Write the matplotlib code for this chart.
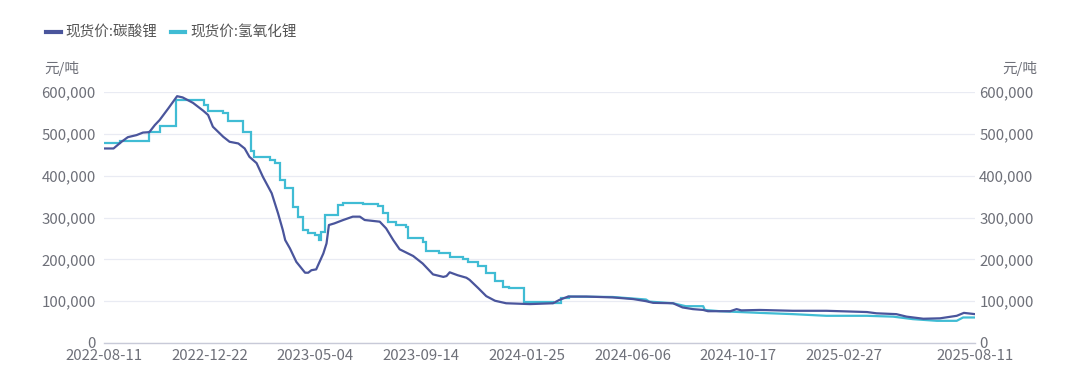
import matplotlib
matplotlib.use("Agg")
import matplotlib.pyplot as plt
import matplotlib.ticker as mticker
import pandas as pd

plt.rcParams['font.family'] = ['Noto Sans CJK SC', 'DejaVu Sans']

# ---- data ----
carb_dates = ["2022-08-11", "2022-08-23", "2022-09-02", "2022-09-10", "2022-09-21", "2022-09-29",
              "2022-10-07", "2022-10-14", "2022-10-20", "2022-10-31", "2022-11-11", "2022-11-18",
              "2022-12-01", "2022-12-14", "2022-12-20", "2022-12-26", "2023-01-08", "2023-01-16",
              "2023-01-27", "2023-02-04", "2023-02-10", "2023-02-19", "2023-02-27", "2023-03-10",
              "2023-03-18", "2023-03-24", "2023-03-27", "2023-04-02", "2023-04-10", "2023-04-21",
              "2023-04-25", "2023-04-29", "2023-05-05", "2023-05-14", "2023-05-18", "2023-05-21",
              "2023-05-28", "2023-06-08", "2023-06-20", "2023-06-29", "2023-07-05", "2023-07-24",
              "2023-08-01", "2023-08-10", "2023-08-18", "2023-09-04", "2023-09-16", "2023-09-29",
              "2023-10-12", "2023-10-16", "2023-10-20", "2023-10-30", "2023-11-10", "2023-11-14",
              "2023-11-25", "2023-12-05", "2023-12-16", "2023-12-30", "2024-01-29", "2024-02-27",
              "2024-03-06", "2024-03-17", "2024-04-09", "2024-05-12", "2024-06-07", "2024-06-23",
              "2024-07-02", "2024-07-27", "2024-08-08", "2024-08-21", "2024-09-03", "2024-09-09",
              "2024-10-07", "2024-10-15", "2024-10-21", "2024-11-13", "2024-12-25", "2025-02-05",
              "2025-03-28", "2025-04-09", "2025-05-04", "2025-05-17", "2025-06-07", "2025-06-28",
              "2025-07-19", "2025-07-28", "2025-08-11"]
carb_values = [465000, 465000, 481000, 492000, 497000, 503000,
               504000, 521000, 533000, 561000, 590000, 587000,
               574000, 555000, 545000, 517000, 493000, 481000,
               477000, 465000, 445000, 430000, 397000, 358000,
               310000, 270000, 246000, 226000, 194000, 168000,
               168000, 174000, 176000, 214000, 238000, 282000,
               286000, 294000, 302000, 302000, 294000, 290000,
               274000, 246000, 224000, 208000, 190000, 164000,
               158000, 160000, 169000, 162000, 156000, 151000,
               131000, 112000, 101000, 95000, 93000, 95000,
               103000, 111000, 111000, 109000, 105000, 100000,
               96000, 95000, 85000, 81000, 79000, 76000,
               76000, 81000, 78000, 79000, 77000, 77000,
               74000, 71000, 69000, 63000, 58000, 59000,
               65000, 72000, 69000]

# stepwise part (held until next date)
hydro_step_dates = ["2022-08-11", "2022-08-31", "2022-10-07", "2022-10-20", "2022-11-09", "2022-12-15",
                    "2022-12-20", "2023-01-08", "2023-01-14", "2023-02-02", "2023-02-12", "2023-02-16",
                    "2023-03-08", "2023-03-14", "2023-03-20", "2023-03-27", "2023-04-06", "2023-04-12",
                    "2023-04-19", "2023-04-25", "2023-05-03", "2023-05-08", "2023-05-11", "2023-05-16",
                    "2023-06-01", "2023-06-08", "2023-07-03", "2023-07-22", "2023-07-28", "2023-08-03",
                    "2023-08-14", "2023-08-26", "2023-08-28", "2023-09-16", "2023-09-20", "2023-10-07",
                    "2023-10-20", "2023-11-06", "2023-11-12", "2023-11-25", "2023-12-05", "2023-12-16",
                    "2023-12-26", "2024-01-03", "2024-01-21", "2024-02-27", "2024-03-08", "2024-03-18"]
hydro_step_values = [477000, 483000, 505000, 519000, 581000, 569000,
                     555000, 549000, 531000, 504000, 458000, 445000,
                     437000, 430000, 390000, 370000, 326000, 302000,
                     270000, 262000, 258000, 246000, 266000, 306000,
                     330000, 334000, 332000, 327000, 310000, 290000,
                     282000, 278000, 250000, 242000, 221000, 216000,
                     206000, 200000, 194000, 184000, 167000, 149000,
                     135000, 131000, 99000, 96000, 107000, 111000]
# smooth part (joined by straight segments)
hydro_line_dates = ["2024-03-18", "2024-05-12", "2024-06-23", "2024-06-27", "2024-07-27", "2024-08-12",
                    "2024-09-03", "2024-09-05", "2024-09-24", "2024-11-13", "2024-12-25", "2025-02-05",
                    "2025-03-28", "2025-04-30", "2025-05-25", "2025-06-24", "2025-07-19", "2025-07-27",
                    "2025-08-11"]
hydro_line_values = [111000, 110000, 104000, 99000, 95000, 88000,
                     88000, 79000, 76000, 72000, 69000, 65000,
                     65000, 63000, 57000, 53000, 53000, 61000,
                     61000]

x_ticks = ["2022-08-11", "2022-12-22", "2023-05-04", "2023-09-14", "2024-01-25",
           "2024-06-06", "2024-10-17", "2025-02-27", "2025-08-11"]
y_ticks = [0, 100000, 200000, 300000, 400000, 500000, 600000]
series_names = ["现货价:碳酸锂", "现货价:氢氧化锂"]
unit = "元/吨"

# ---- styling ----
c_carb = "#4a559c"
c_hydro = "#40bcd4"
txt = "#6e7079"
grid_c = "#e9ebf3"
axis_c = "#c8cad8"
fs = 10.8

fig = plt.figure(figsize=(10.8, 3.92), dpi=100)
ax = fig.add_axes([104 / 1080, 1 - 343 / 392, (975 - 104) / 1080, (343 - 92) / 392])

ax.plot(pd.to_datetime(hydro_step_dates), hydro_step_values, color=c_hydro, lw=1.6,
        drawstyle="steps-post", zorder=3, solid_joinstyle="miter")
ax.plot(pd.to_datetime(hydro_line_dates), hydro_line_values, color=c_hydro, lw=1.6, zorder=3)
ax.plot(pd.to_datetime(carb_dates), carb_values, color=c_carb, lw=1.6, zorder=4)

xt = pd.to_datetime(x_ticks)
ax.set_xlim(xt[0], xt[-1])
ax.set_xticks(xt)
ax.set_xticklabels(x_ticks)
ax.set_ylim(0, 600000)
ax.set_yticks(y_ticks)
fmt = mticker.FuncFormatter(lambda v, p: f"{int(v):,}")
ax.yaxis.set_major_formatter(fmt)

ax.grid(axis="y", color=grid_c, lw=0.9)
ax.set_axisbelow(True)
for s in ["top", "right", "left"]:
    ax.spines[s].set_visible(False)
ax.spines["bottom"].set_color(axis_c)
ax.spines["bottom"].set_linewidth(1.0)
ax.tick_params(axis="x", length=0, pad=4, labelsize=fs, colors=txt)
ax.tick_params(axis="y", length=0, pad=6, labelsize=fs, colors=txt)

ax2 = ax.twinx()
ax2.set_ylim(0, 600000)
ax2.set_yticks(y_ticks)
ax2.yaxis.set_major_formatter(fmt)
for s in ["top", "right", "left", "bottom"]:
    ax2.spines[s].set_visible(False)
ax2.tick_params(axis="y", length=0, pad=3, labelsize=fs, colors=txt)

fig.text(44 / 1080, 1 - 68 / 392, unit, ha="left", va="center", fontsize=10.5, color=txt)
fig.text(1037 / 1080, 1 - 68 / 392, unit, ha="right", va="center", fontsize=10.5, color=txt)

h1, = ax.plot([], [], color=c_carb, lw=3)
h2, = ax.plot([], [], color=c_hydro, lw=3)
fig.legend([h1, h2], series_names, loc="center left", bbox_to_anchor=(33 / 1080, 1 - 33 / 392),
           ncol=2, frameon=False, fontsize=10.5, handlelength=1.0, handletextpad=0.35,
           columnspacing=0.9, labelcolor="#555555")

fig.savefig("out.png", dpi=100)
